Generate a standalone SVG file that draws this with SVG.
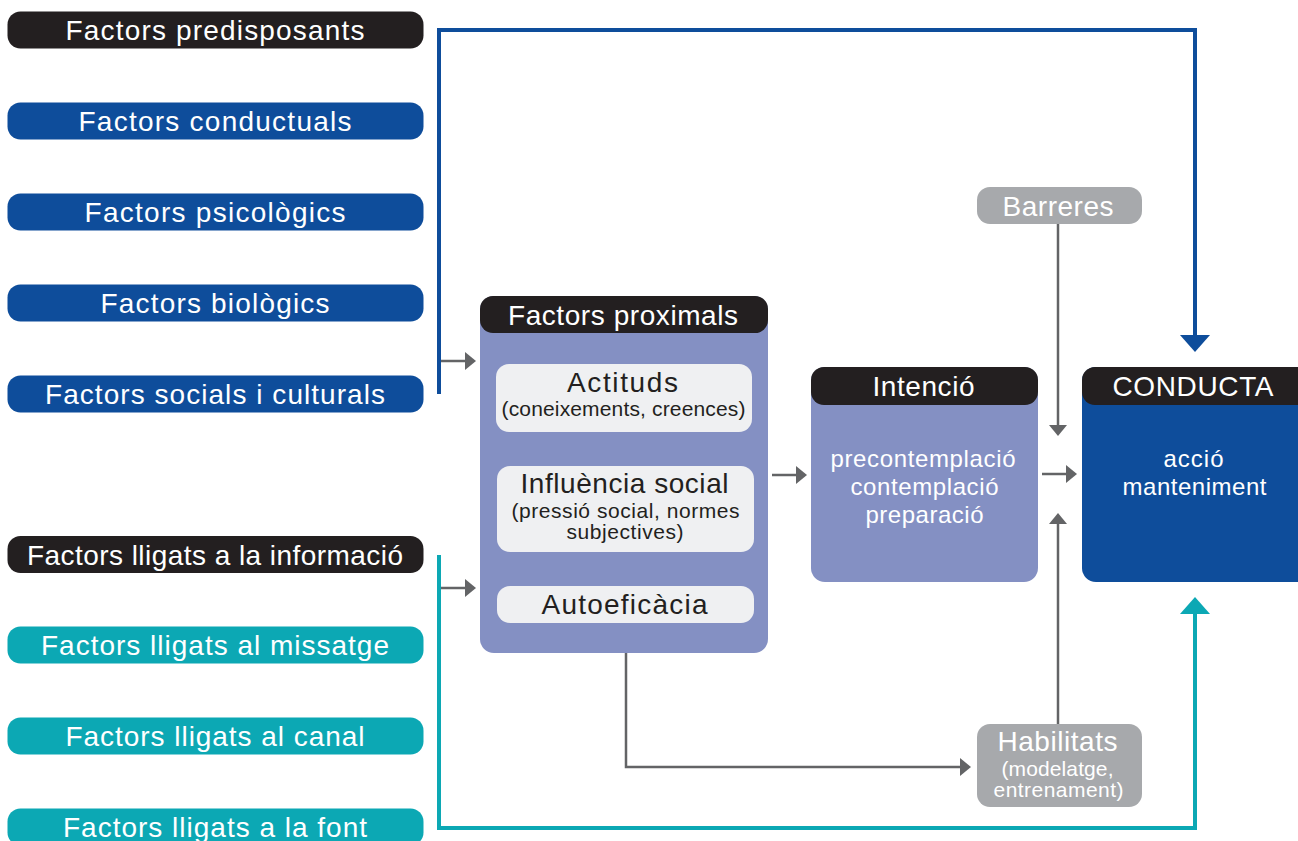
<svg xmlns="http://www.w3.org/2000/svg" width="1298" height="841" viewBox="0 0 1298 841">
<style>
text{font-family:"Liberation Sans",Arial,Helvetica,sans-serif;text-anchor:middle}
.w{fill:#ffffff}
.d{fill:#231f20}
.t26{font-size:28px}
.t22{font-size:24px}
.t19{font-size:21px}
.blk{fill:#231f20}
.blu{fill:#0e4d9b}
.tea{fill:#0ca8b4}
.pur{fill:#8490c3}
.lt{fill:#eff0f2}
.gry{fill:#a7a9ac}
.g{fill:none;stroke:#636466;stroke-width:2.5}
</style>
<defs>
<marker id="ag" markerUnits="userSpaceOnUse" markerWidth="12" markerHeight="20" refX="0" refY="9" orient="auto" viewBox="0 0 12 20">
<path d="M0,0 L11,9 L0,18 z" fill="#636466"/>
</marker>
<marker id="ab" markerUnits="userSpaceOnUse" markerWidth="18" markerHeight="32" refX="0" refY="15" orient="auto" viewBox="0 0 18 32">
<path d="M0,0 L17,15 L0,30 z" fill="#0e4d9b"/>
</marker>
<marker id="at" markerUnits="userSpaceOnUse" markerWidth="18" markerHeight="32" refX="0" refY="15" orient="auto" viewBox="0 0 18 32">
<path d="M0,0 L17,15 L0,30 z" fill="#0ca8b4"/>
</marker>
</defs>

<g id="connectors">
<path d="M439,394 V30 H1195 V335" fill="none" stroke="#0e4d9b" stroke-width="4" marker-end="url(#ab)"/>
<path d="M439,555 V828 H1195 V614" fill="none" stroke="#0ca8b4" stroke-width="4" marker-end="url(#at)"/>
<path class="g" d="M441,361 H465" marker-end="url(#ag)"/>
<path class="g" d="M441,588 H465" marker-end="url(#ag)"/>
<path class="g" d="M772,475 H796" marker-end="url(#ag)"/>
<path class="g" d="M1042,474 H1066" marker-end="url(#ag)"/>
<path class="g" d="M1058,224 V425" marker-end="url(#ag)"/>
<path class="g" d="M1058,724 V524" marker-end="url(#ag)"/>
<path class="g" d="M626,653 V767 H960" marker-end="url(#ag)"/>
</g>

<g id="n-predisposants"><rect x="7.5" y="11.5" width="416" height="37" rx="13" class="blk"/><text x="215" y="40" class="w t26" textLength="299" lengthAdjust="spacing">Factors predisposants</text></g>
<g id="n-conductuals"><rect x="7.5" y="102.5" width="416" height="37" rx="13" class="blu"/><text x="215" y="131" class="w t26" textLength="273" lengthAdjust="spacing">Factors conductuals</text></g>
<g id="n-psicologics"><rect x="7.5" y="193.5" width="416" height="37" rx="13" class="blu"/><text x="215" y="222" class="w t26" textLength="261" lengthAdjust="spacing">Factors psicològics</text></g>
<g id="n-biologics"><rect x="7.5" y="284.5" width="416" height="37" rx="13" class="blu"/><text x="215" y="313" class="w t26" textLength="229" lengthAdjust="spacing">Factors biològics</text></g>
<g id="n-socials"><rect x="7.5" y="375.5" width="416" height="37" rx="13" class="blu"/><text x="215" y="404" class="w t26" textLength="340" lengthAdjust="spacing">Factors socials i culturals</text></g>
<g id="n-informacio"><rect x="7.5" y="536" width="416" height="37" rx="13" class="blk"/><text x="215" y="564.5" class="w t26" textLength="376" lengthAdjust="spacing">Factors lligats a la informació</text></g>
<g id="n-missatge"><rect x="7.5" y="626.5" width="416" height="37" rx="13" class="tea"/><text x="215" y="655" class="w t26" textLength="348" lengthAdjust="spacing">Factors lligats al missatge</text></g>
<g id="n-canal"><rect x="7.5" y="717.5" width="416" height="37" rx="13" class="tea"/><text x="215" y="746" class="w t26" textLength="299" lengthAdjust="spacing">Factors lligats al canal</text></g>
<g id="n-font"><rect x="7.5" y="808.5" width="416" height="37" rx="13" class="tea"/><text x="215" y="837" class="w t26" textLength="304" lengthAdjust="spacing">Factors lligats a la font</text></g>

<g id="n-proximals">
<rect x="480" y="296" width="288" height="357" rx="14" class="pur"/>
<rect x="480" y="296" width="288" height="37" rx="13" class="blk"/>
<text x="623" y="324.5" class="w t26" textLength="230" lengthAdjust="spacing">Factors proximals</text>
</g>
<g id="n-actituds">
<rect x="496" y="364" width="256" height="68" rx="13" class="lt"/>
<text x="622.5" y="392" class="d t26" textLength="111" lengthAdjust="spacing">Actituds</text>
<text x="623.5" y="415.5" class="d t19" textLength="244" lengthAdjust="spacing">(coneixements, creences)</text>
</g>
<g id="n-influencia">
<rect x="497" y="466" width="257" height="86" rx="13" class="lt"/>
<text x="624.5" y="493" class="d t26" textLength="208" lengthAdjust="spacing">Influència social</text>
<text x="625.5" y="517.5" class="d t19" textLength="228" lengthAdjust="spacing">(pressió social, normes</text>
<text x="625" y="538.5" class="d t19" textLength="117" lengthAdjust="spacing">subjectives)</text>
</g>
<g id="n-autoeficacia">
<rect x="497" y="586" width="257" height="37" rx="13" class="lt"/>
<text x="624.5" y="613.5" class="d t26" textLength="166" lengthAdjust="spacing">Autoeficàcia</text>
</g>

<g id="n-intencio">
<rect x="811" y="367" width="227" height="215" rx="14" class="pur"/>
<rect x="811" y="367" width="227" height="38" rx="13" class="blk"/>
<text x="923.5" y="395.5" class="w t26" textLength="102" lengthAdjust="spacing">Intenció</text>
<text x="923" y="466.5" class="w t22" textLength="185" lengthAdjust="spacing">precontemplació</text>
<text x="924.5" y="494.5" class="w t22" textLength="148" lengthAdjust="spacing">contemplació</text>
<text x="924.5" y="522.5" class="w t22" textLength="118" lengthAdjust="spacing">preparació</text>
</g>

<g id="n-conducta">
<rect x="1082" y="367" width="240" height="215" rx="14" class="blu"/>
<rect x="1082" y="367" width="240" height="38" rx="13" class="blk"/>
<text x="1193" y="395.5" class="w t26" textLength="161" lengthAdjust="spacing">CONDUCTA</text>
<text x="1193.5" y="466.5" class="w t22" textLength="60" lengthAdjust="spacing">acció</text>
<text x="1194.5" y="494.5" class="w t22" textLength="144" lengthAdjust="spacing">manteniment</text>
</g>

<g id="n-barreres">
<rect x="977" y="187" width="165" height="37" rx="13" class="gry"/>
<text x="1058" y="215.5" class="w t26" textLength="111" lengthAdjust="spacing">Barreres</text>
</g>

<g id="n-habilitats">
<rect x="977" y="724" width="165" height="83" rx="13" class="gry"/>
<text x="1057.5" y="751" class="w t26" textLength="120" lengthAdjust="spacing">Habilitats</text>
<text x="1057.5" y="775.5" class="w t19" textLength="112" lengthAdjust="spacing">(modelatge,</text>
<text x="1058.5" y="796.5" class="w t19" textLength="130" lengthAdjust="spacing">entrenament)</text>
</g>
</svg>
